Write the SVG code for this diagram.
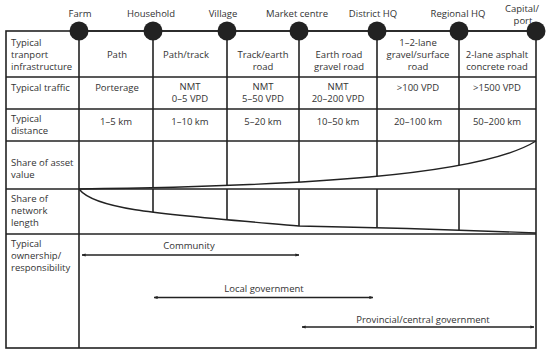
<svg xmlns="http://www.w3.org/2000/svg" width="550" height="356" viewBox="0 0 550 356">
<style>
text{font-family:"Open Sans","DejaVu Sans",sans-serif;font-size:9.5px;fill:#333}
.c{text-anchor:middle}
.ln{stroke:#222;stroke-width:1.6;fill:none}
.cv{stroke:#222;stroke-width:1.4;fill:none}
.ar{stroke:#222;stroke-width:1.3;fill:none;marker-start:url(#ah);marker-end:url(#ah)}
.dot{fill:#222}
</style>
<defs>
<marker id="ah" viewBox="0 0 10 10" refX="9" refY="5" markerWidth="4" markerHeight="4" orient="auto-start-reverse" markerUnits="userSpaceOnUse">
<path d="M0,1 L10,5 L0,9 Z" fill="#222"/>
</marker>
</defs>
<rect width="550" height="356" fill="#fff"/>
<g id="table">
<rect class="ln" x="6" y="31" width="530" height="317"/>
<line class="ln" x1="6" y1="77" x2="536" y2="77"/>
<line class="ln" x1="6" y1="109" x2="536" y2="109"/>
<line class="ln" x1="6" y1="141" x2="536" y2="141"/>
<line class="ln" x1="6" y1="189" x2="536" y2="189"/>
<line class="ln" x1="6" y1="234" x2="536" y2="234"/>
<line class="ln" x1="79" y1="31" x2="79" y2="348"/>
<line class="ln" x1="153" y1="31" x2="153" y2="187.7"/>
<line class="ln" x1="227" y1="31" x2="227" y2="185.5"/>
<line class="ln" x1="299" y1="31" x2="299" y2="182.1"/>
<line class="ln" x1="377" y1="31" x2="377" y2="176.2"/>
<line class="ln" x1="459" y1="31" x2="459" y2="165.4"/>
<line class="ln" x1="153" y1="189" x2="153" y2="212.3"/>
<line class="ln" x1="227" y1="189" x2="227" y2="219.8"/>
<line class="ln" x1="299" y1="189" x2="299" y2="226"/>
<line class="ln" x1="377" y1="189" x2="377" y2="227.7"/>
<line class="ln" x1="459" y1="189" x2="459" y2="230.2"/>
<path class="cv" d="M79,189 C300,186 480,176 536,141"/>
<path class="cv" d="M79,189 C95,210 160,214 299,226 C350,227 450,229.5 536,233"/>
</g>
<g id="row-labels">
<text x="11" y="46">Typical</text>
<text x="11" y="58">tranport</text>
<text x="11" y="70">infrastructure</text>
<text x="11" y="91">Typical traffic</text>
<text x="11" y="122">Typical</text>
<text x="11" y="134">distance</text>
<text x="11" y="166">Share of asset</text>
<text x="11" y="178">value</text>
<text x="11" y="202">Share of</text>
<text x="11" y="214">network</text>
<text x="11" y="226">length</text>
<text x="11" y="247">Typical</text>
<text x="11" y="259">ownership/</text>
<text x="11" y="271">responsibility</text>
</g>
<g id="cells">
<text class="c" x="117" y="58">Path</text>
<text class="c" x="186" y="58">Path/track</text>
<text class="c" x="263" y="58">Track/earth</text>
<text class="c" x="263" y="70">road</text>
<text class="c" x="339" y="58">Earth road</text>
<text class="c" x="339" y="70">gravel road</text>
<text class="c" x="418" y="46">1–2-lane</text>
<text class="c" x="418" y="58">gravel/surface</text>
<text class="c" x="418" y="70">road</text>
<text class="c" x="497" y="58">2-lane asphalt</text>
<text class="c" x="497" y="70">concrete road</text>
<text class="c" x="117" y="91">Porterage</text>
<text class="c" x="190" y="90">NMT</text>
<text class="c" x="190" y="102">0–5 VPD</text>
<text class="c" x="263" y="90">NMT</text>
<text class="c" x="263" y="102">5–50 VPD</text>
<text class="c" x="338" y="90">NMT</text>
<text class="c" x="338" y="102">20–200 VPD</text>
<text class="c" x="418" y="91">&gt;100 VPD</text>
<text class="c" x="497" y="91">&gt;1500 VPD</text>
<text class="c" x="116" y="125">1–5 km</text>
<text class="c" x="190" y="125">1–10 km</text>
<text class="c" x="263" y="125">5–20 km</text>
<text class="c" x="338" y="125">10–50 km</text>
<text class="c" x="418" y="125">20–100 km</text>
<text class="c" x="497" y="125">50–200 km</text>
</g>
<g id="top-line">
<line class="ln" x1="79" y1="31" x2="536" y2="31"/>
</g>
<g id="farm"><circle class="dot" cx="79" cy="31" r="9.5"/><text class="c" x="80" y="17">Farm</text></g>
<g id="household"><circle class="dot" cx="153" cy="31" r="9.5"/><text class="c" x="151" y="17">Household</text></g>
<g id="village"><circle class="dot" cx="227" cy="31" r="9.5"/><text class="c" x="223" y="17">Village</text></g>
<g id="market-centre"><circle class="dot" cx="299" cy="31" r="9.5"/><text class="c" x="297" y="17">Market centre</text></g>
<g id="district-hq"><circle class="dot" cx="377" cy="31" r="9.5"/><text class="c" x="373" y="17">District HQ</text></g>
<g id="regional-hq"><circle class="dot" cx="459" cy="31" r="9.5"/><text class="c" x="458" y="17">Regional HQ</text></g>
<g id="capital-port"><circle class="dot" cx="536" cy="31" r="9.5"/><text class="c" x="522" y="12">Capital/</text><text class="c" x="523" y="24">port</text></g>
<g id="connectors">
<line class="ar" x1="82" y1="255" x2="299" y2="255"/>
<line class="ar" x1="154" y1="297.5" x2="373" y2="297.5"/>
<line class="ar" x1="302" y1="327" x2="534" y2="327"/>
</g>
<g id="ownership-labels">
<text class="c" x="189" y="249">Community</text>
<text class="c" x="264" y="292">Local government</text>
<text class="c" x="423" y="323">Provincial/central government</text>
</g>
</svg>
